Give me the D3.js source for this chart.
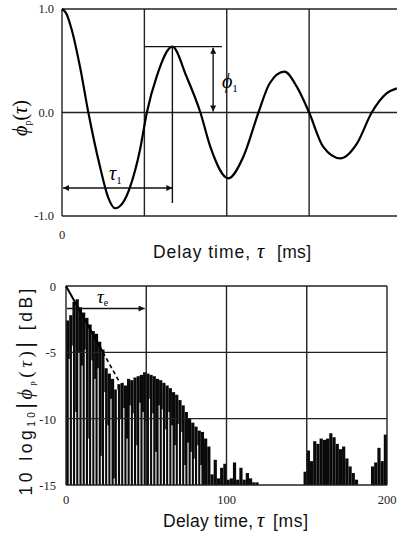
<!DOCTYPE html>
<html>
<head>
<meta charset="utf-8">
<script src="https://cdn.jsdelivr.net/npm/d3@7"></script>
<style>
  body { margin: 0; background: #fff; }
  svg { display: block; }
  .tick-label { font-family: "Liberation Serif", "DejaVu Serif", serif; font-size: 12.5px; fill: #222; }
  .axis-title { font-family: "Liberation Sans", Arial, sans-serif; font-size: 17.5px; fill: #111; }
  .greek { font-family: "Liberation Serif", serif; font-style: italic; }
</style>
</head>
<body>
<div id="chart"></div>
<script>
// ---- Top panel: normalized ACF phi_p(tau), x in grid units
const acfTau = [0, 0.05, 0.118, 0.219, 0.32, 0.46, 0.56, 0.644, 0.74, 0.826, 0.947, 1.03, 1.15, 1.34, 1.51, 1.68, 1.80, 2.02, 2.20, 2.385, 2.52, 2.70, 2.85, 3.0, 3.17, 3.377, 3.58, 3.76, 3.94, 4.065];
const acfPhi = [1.0, 0.96, 0.80, 0.44, 0.0, -0.52, -0.82, -0.925, -0.87, -0.72, -0.36, 0.0, 0.35, 0.636, 0.35, 0.0, -0.33, -0.636, -0.43, 0.0, 0.28, 0.394, 0.25, 0.0, -0.33, -0.443, -0.30, 0.0, 0.185, 0.234];
const topYTicks = [1, 0, -1];
const topYTickLabels = ['1.0', '0.0', '-1.0'];
const topXGrid = [0, 1, 2, 3];
const tau1Level = -0.73;     // height of the tau_1 arrow
const tau1At = 1.34;         // first peak position
const phi1Value = 0.636;     // first peak height
const phi1ArrowAt = 1.835;

// ---- Bottom panel: 10 log10 |phi_p(tau)| in dB, 2 ms bins
const binStart = d3.range(0, 200, 2);
const binTop = [
  -2.6, -2.2, -1.2, -1.0, -1.6, -2.0, -2.4, -2.9, -3.4, -3.6,
  -4.2, -4.8, -6.2, -6.6, -7.0, -7.8, -7.4, -7.3, -7.5, -7.0,
  -7.1, -6.9, -6.8, -6.7, -6.5, -6.6, -6.7, -6.8, -7.0, -7.1,
  -7.3, -7.5, -7.7, -8.0, -8.2, -8.6, -9.0, -9.5, -10.0, -10.3,
  -10.6, -10.9, -11.0, -11.5, -12.1, -14.2, -13.1, -14.5, -13.7, -13.4,
  -14.6, -14.5, -13.3, -14.6, -13.7, -14.6, -14.1, -14.5, -14.8, -14.8,
  -15, -15, -15, -15, -15, -15, -15, -15, -15, -15,
  -15, -15, -15, -15, -14.0, -12.4, -13.2, -11.7, -11.9, -11.5,
  -11.6, -11.5, -11.1, -11.4, -11.9, -12.3, -12.1, -13.0, -13.6, -14.1,
  -14.6, -15, -15, -15, -15, -13.6, -13.3, -12.2, -13.2, -11.2
];
const binGap = [
  -15, -5.5, -4.5, -9.5, -5.0, -6.0, -4.8, -11.5, -5.6, -7.0,
  -6.2, -12.8, -8.0, -10.5, -8.5, -14.5, -7.8, -10.0, -9.2, -11.5,
  -9.0, -9.6, -12.0, -8.8, -9.5, -10.2, -8.5, -9.6, -12.5, -9.0,
  -9.3, -10.8, -9.5, -10.5, -12.0, -10.4, -11.0, -13.5, -11.8, -12.5,
  -13.0, -12.0, -13.5, -15, -15, -15, -15, -15, -15, -15,
  -15, -15, -15, -15, -15, -15, -15, -15, -15, -15,
  -15, -15, -15, -15, -15, -15, -15, -15, -15, -15,
  -15, -15, -15, -15, -15, -15, -15, -15, -15, -15,
  -15, -15, -15, -15, -15, -15, -15, -15, -15, -15,
  -15, -15, -15, -15, -15, -15, -15, -15, -15, -15
];
const botYTicks = [0, -5, -10, -15];
const botXTicks = [0, 100, 200];
const botXGrid = [0, 50, 100, 150, 200];
const decayLine = [[0, 0], [23, -5]];
const decayDashed = [[23, -5], [33.6, -7.3]];
const tauELevel = -1.7;
const tauEAt = 49;

const W = 397, H = 537;
const svg = d3.select('#chart').append('svg').attr('width', W).attr('height', H);

const defs = svg.append('defs');
defs.append('marker')
  .attr('id', 'arrow').attr('viewBox', '0 0 10 10')
  .attr('refX', 10).attr('refY', 5)
  .attr('markerWidth', 10).attr('markerHeight', 6)
  .attr('markerUnits', 'userSpaceOnUse')
  .attr('orient', 'auto-start-reverse')
  .append('path').attr('d', 'M0,0 L10,5 L0,10 Z').attr('fill', '#111');

const gridStroke = '#222';

// draws "Delay time, τ [ms]" with the wide spacing of the original typesetting
function delayTitle(g, x0, lenDelay, xTau, xMs, lenMs, y) {
  g.append('text').attr('class', 'axis-title').attr('x', x0).attr('y', y)
    .attr('textLength', lenDelay).attr('lengthAdjust', 'spacing').text('Delay time,');
  g.append('text').attr('class', 'greek').attr('font-size', 20).attr('x', xTau).attr('y', y).text('τ');
  g.append('text').attr('class', 'axis-title').attr('x', xMs).attr('y', y)
    .attr('textLength', lenMs).attr('lengthAdjust', 'spacing').text('[ms]');
}

// ================= TOP PANEL =================
const xT = d3.scaleLinear().domain([0, 4]).range([62, 391.5]);
const yT = d3.scaleLinear().domain([-1, 1]).range([216, 9]);
const topRight = W;

const gTop = svg.append('g');

gTop.selectAll('.hgrid').data(topYTicks).join('line')
  .attr('x1', xT(0)).attr('x2', topRight)
  .attr('y1', d => yT(d)).attr('y2', d => yT(d))
  .attr('stroke', gridStroke).attr('stroke-width', 1.4);
gTop.selectAll('.vgrid').data(topXGrid).join('line')
  .attr('x1', d => xT(d)).attr('x2', d => xT(d))
  .attr('y1', yT(1)).attr('y2', yT(-1))
  .attr('stroke', gridStroke).attr('stroke-width', 1.4);

gTop.selectAll('.ytl').data(topYTicks).join('text')
  .attr('class', 'tick-label')
  .attr('x', 54).attr('y', d => yT(d) + 4)
  .attr('text-anchor', 'end')
  .text((d, i) => topYTickLabels[i]);
gTop.append('text').attr('class', 'tick-label')
  .attr('x', xT(0)).attr('y', 239).attr('text-anchor', 'middle').text('0');

// curve
const acfLine = d3.line()
  .x((d, i) => xT(acfTau[i]))
  .y(d => yT(d))
  .curve(d3.curveMonotoneX);
gTop.append('path')
  .attr('d', acfLine(acfPhi))
  .attr('fill', 'none').attr('stroke', '#000').attr('stroke-width', 2.2);

// tau_1 annotation
gTop.append('line')
  .attr('x1', xT(tau1At)).attr('x2', xT(tau1At))
  .attr('y1', yT(phi1Value)).attr('y2', 203)
  .attr('stroke', '#111').attr('stroke-width', 1.4);
gTop.append('line')
  .attr('x1', xT(0) + 1).attr('x2', xT(tau1At))
  .attr('y1', yT(tau1Level)).attr('y2', yT(tau1Level))
  .attr('stroke', '#111').attr('stroke-width', 1.4)
  .attr('marker-start', 'url(#arrow)').attr('marker-end', 'url(#arrow)');
gTop.append('text').attr('class', 'greek')
  .attr('x', 109).attr('y', 180).attr('font-size', 20)
  .text('τ').append('tspan').attr('font-size', 11).attr('font-style', 'normal').attr('dy', 4).text('1');

// phi_1 annotation
gTop.append('line')
  .attr('x1', xT(1)).attr('x2', 222)
  .attr('y1', yT(phi1Value)).attr('y2', yT(phi1Value))
  .attr('stroke', '#111').attr('stroke-width', 1.4);
gTop.append('line')
  .attr('x1', xT(phi1ArrowAt)).attr('x2', xT(phi1ArrowAt))
  .attr('y1', yT(phi1Value) + 1).attr('y2', yT(0) - 1)
  .attr('stroke', '#111').attr('stroke-width', 1.4)
  .attr('marker-start', 'url(#arrow)').attr('marker-end', 'url(#arrow)');
gTop.append('text').attr('class', 'greek')
  .attr('x', 222).attr('y', 88).attr('font-size', 20)
  .text('ϕ').append('tspan').attr('font-size', 11).attr('font-style', 'normal').attr('dy', 4).text('1');

delayTitle(gTop, 153, 97, 257, 277, 34, 258);

const tY = gTop.append('text')
  .attr('transform', 'translate(27,118) rotate(-90)')
  .attr('text-anchor', 'middle').attr('font-family', 'Liberation Serif, serif').attr('font-size', 20);
tY.append('tspan').attr('font-style', 'italic').text('ϕ');
tY.append('tspan').attr('font-size', 10).attr('dy', 4).text('p');
tY.append('tspan').attr('dy', -4).text('(');
tY.append('tspan').attr('font-style', 'italic').text('τ');
tY.append('tspan').text(')');

// ================= BOTTOM PANEL =================
const xB = d3.scaleLinear().domain([0, 200]).range([66, 387]);
const yB = d3.scaleLinear().domain([-15, 0]).range([485, 286]);

const gBot = svg.append('g');
const bins = binStart.map((t, i) => ({ t, top: binTop[i], gap: binGap[i] }));

gBot.selectAll('.bar').data(bins.filter(d => d.top > -15)).join('rect')
  .attr('x', d => xB(d.t))
  .attr('width', d => xB(d.t + 2) - xB(d.t))
  .attr('y', d => yB(d.top))
  .attr('height', d => yB(-15) - yB(d.top))
  .attr('fill', '#0a0a0a');

gBot.selectAll('.gap').data(bins.filter(d => d.gap > -15)).join('rect')
  .attr('x', d => xB(d.t) - 0.5)
  .attr('width', 1.1)
  .attr('y', d => yB(Math.min(d.gap, d.top)))
  .attr('height', d => yB(-15) - yB(Math.min(d.gap, d.top)))
  .attr('fill', '#f8f8f8');

gBot.selectAll('.hgrid').data(botYTicks).join('line')
  .attr('x1', xB(0)).attr('x2', xB(200))
  .attr('y1', d => yB(d)).attr('y2', d => yB(d))
  .attr('stroke', gridStroke).attr('stroke-width', 1.4);
gBot.selectAll('.vgrid').data(botXGrid).join('line')
  .attr('x1', d => xB(d)).attr('x2', d => xB(d))
  .attr('y1', yB(0)).attr('y2', yB(-15))
  .attr('stroke', gridStroke).attr('stroke-width', 1.4);

gBot.selectAll('.ytl').data(botYTicks).join('text')
  .attr('class', 'tick-label')
  .attr('x', 56).attr('y', d => yB(d) + 5)
  .attr('text-anchor', 'end')
  .text(d => d);
gBot.selectAll('.xtl').data(botXTicks).join('text')
  .attr('class', 'tick-label')
  .attr('x', d => xB(d)).attr('y', 504)
  .attr('text-anchor', 'middle')
  .text(d => d);

// decay line with dashed extension
gBot.append('line')
  .attr('x1', xB(decayLine[0][0])).attr('y1', yB(decayLine[0][1]))
  .attr('x2', xB(decayLine[1][0])).attr('y2', yB(decayLine[1][1]))
  .attr('stroke', '#000').attr('stroke-width', 2);
gBot.append('line')
  .attr('x1', xB(decayDashed[0][0])).attr('y1', yB(decayDashed[0][1]))
  .attr('x2', xB(decayDashed[1][0])).attr('y2', yB(decayDashed[1][1]))
  .attr('stroke', '#000').attr('stroke-width', 1.6).attr('stroke-dasharray', '4,3');

// tau_e arrow
gBot.append('line')
  .attr('x1', xB(0) + 1).attr('x2', xB(tauEAt))
  .attr('y1', yB(tauELevel)).attr('y2', yB(tauELevel))
  .attr('stroke', '#111').attr('stroke-width', 1.4)
  .attr('marker-end', 'url(#arrow)');
gBot.append('text').attr('class', 'greek')
  .attr('x', 97).attr('y', 303).attr('font-size', 19)
  .text('τ').append('tspan').attr('font-size', 10).attr('font-style', 'normal').attr('dy', 3).text('e');

delayTitle(gBot, 163, 90, 257, 273, 35, 527);

const bY = gBot.append('text').attr('class', 'axis-title')
  .attr('transform', 'translate(32,392) rotate(-90)')
  .attr('text-anchor', 'middle')
  .attr('font-size', 17)
  .attr('textLength', 207).attr('lengthAdjust', 'spacing');
bY.append('tspan').text('10 log');
bY.append('tspan').attr('font-size', 10).attr('dy', 3).text('10');
bY.append('tspan').attr('dy', -3).attr('font-size', 22).text('|');
bY.append('tspan').attr('class', 'greek').attr('font-size', 20).text('ϕ');
bY.append('tspan').attr('font-size', 9).attr('dy', 3).attr('font-family', 'Liberation Serif, serif').text('p');
bY.append('tspan').attr('dy', -3).attr('font-family', 'Liberation Serif, serif').attr('font-size', 19).text('(');
bY.append('tspan').attr('class', 'greek').attr('font-size', 19).text('τ');
bY.append('tspan').attr('font-family', 'Liberation Serif, serif').attr('font-size', 19).text(')');
bY.append('tspan').attr('font-size', 22).text('|');
bY.append('tspan').text(' [dB]');
</script>
</body>
</html>
